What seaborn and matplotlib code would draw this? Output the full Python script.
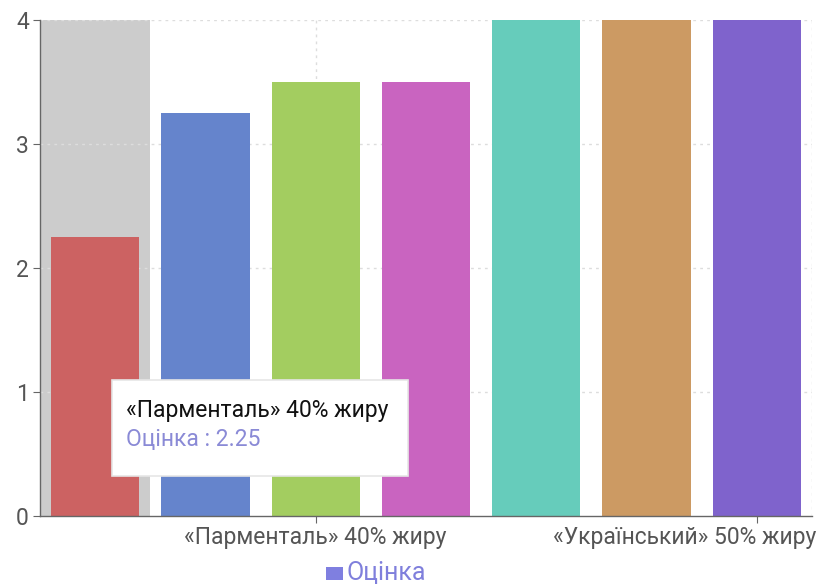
import matplotlib
matplotlib.use("Agg")
import matplotlib.pyplot as plt
import matplotlib.transforms as mtransforms
from matplotlib.patches import FancyBboxPatch, Rectangle
import seaborn as sns
import pandas as pd

# Data
positions = [0, 1, 2, 3, 4, 5, 6]
names = ["«Парменталь» 40% жиру", "", "«Парменталь» 40% жиру", "", "", "", "«Український» 50% жиру"]
scores = [2.25, 3.25, 3.5, 3.5, 4, 4, 4]
bar_colors = ["#cc6262", "#6584cc", "#a3cd60", "#c964c0", "#66ccbb", "#cc9a63", "#7f63cc"]
series_name = "Оцінка"
y_ticks = [0, 1, 2, 3, 4]
shown_ticks = [2, 6]

sns.set_style("white")
plt.rcParams["font.family"] = ["Roboto", "DejaVu Sans"]

df = pd.DataFrame({"pos": positions, "score": scores})

fig = plt.figure(figsize=(8.24, 5.84), dpi=100)
ax = fig.add_axes([40 / 824, (584 - 516) / 584, 772 / 824, 496 / 584])

# hover shadow
ax.axvspan(-0.5, 0.5, color="#cccccc", zorder=0, lw=0)

sns.barplot(data=df, x="pos", y="score", hue="pos", palette=bar_colors,
            legend=False, width=0.8, saturation=1, ax=ax, zorder=2,
            edgecolor="none", linewidth=0)

ax.set_xlim(-0.5, 6.5)
ax.set_ylim(0, 4)
ax.set_yticks(y_ticks)
ax.set_yticklabels([str(v) for v in y_ticks])
ax.set_xlabel("")
ax.set_ylabel("")

# gridlines
for v in y_ticks[1:]:
    ax.axhline(v, color="#dddddd", ls=(0, (2, 3)), lw=1, zorder=1)
for xv in [2, 6.5]:
    ax.axvline(xv, color="#dddddd", ls=(0, (2, 3)), lw=1, zorder=1)

ax.set_xticks(shown_ticks)
ax.set_xticklabels([names[i] for i in shown_ticks])
ax.tick_params(axis="x", length=5, color="#666666", labelsize=16.5, labelcolor="#555555", pad=2)
ax.tick_params(axis="y", length=5, color="#666666", labelsize=16.5, labelcolor="#555555", pad=3, left=True)
ax.tick_params(axis="x", bottom=True)

# shift last x label left to stay in view
lbl = ax.get_xticklabels()[-1]
offset = mtransforms.ScaledTranslation(-72 / 100, 0, fig.dpi_scale_trans)
lbl.set_transform(lbl.get_transform() + offset)

for s in ["top", "right"]:
    ax.spines[s].set_visible(False)
ax.spines["left"].set_color("#666666")
ax.spines["bottom"].set_color("#666666")
ax.spines["left"].set_linewidth(1)
ax.spines["bottom"].set_linewidth(1)

# tooltip
tx0, ty0, tw, th = 112 / 824, 1 - 476 / 584, 296 / 824, 96 / 584
fig.patches.append(FancyBboxPatch((tx0, ty0), tw, th, boxstyle="square,pad=0",
                                  transform=fig.transFigure, facecolor="white",
                                  edgecolor="#e6e6e6", lw=1.2, zorder=10))
fig.text(126 / 824, 1 - 410 / 584, names[0], fontsize=16.5, color="#111111",
         va="center", ha="left", zorder=11)
fig.text(126 / 824, 1 - 440 / 584, f"{series_name} : {scores[0]}", fontsize=16.5,
         color="#8a8ad6", va="center", ha="left", zorder=11)

# legend
fig.patches.append(Rectangle((326 / 824, 1 - 580 / 584), 17 / 824, 13 / 584,
                             transform=fig.transFigure, facecolor="#7f7fe0",
                             edgecolor="none"))
fig.text(347 / 824, 1 - 573 / 584, series_name, fontsize=18, color="#7f7fdc",
         va="center", ha="left")

fig.savefig("out.png", dpi=100)
